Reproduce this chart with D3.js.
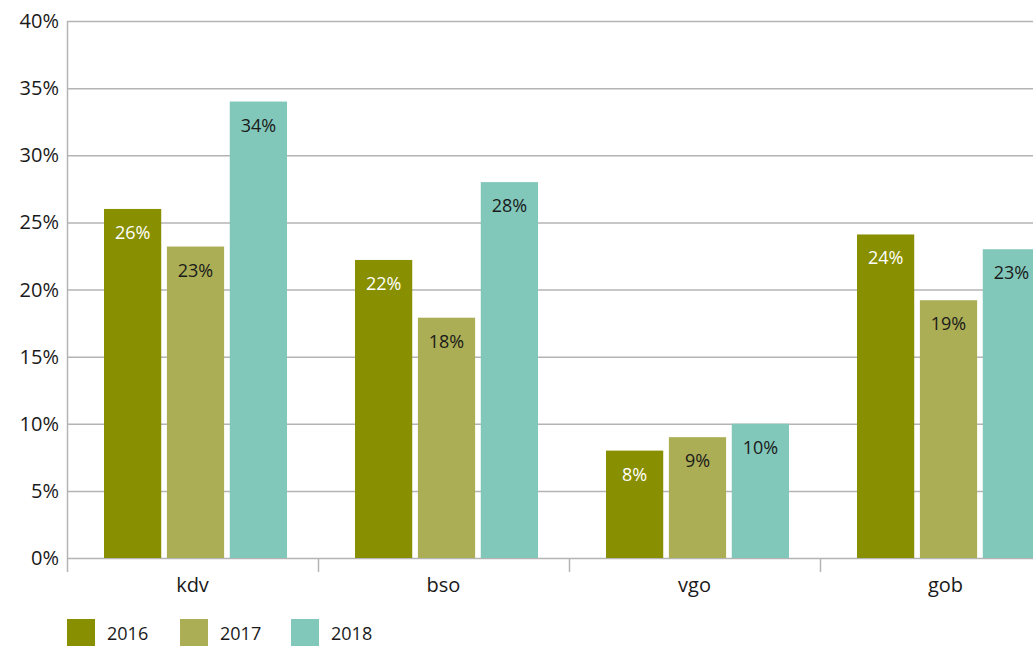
<!DOCTYPE html>
<html>
<head>
<meta charset="utf-8">
<script src="https://cdn.jsdelivr.net/npm/d3@7"></script>
<style>
  body { margin: 0; background: #fff; overflow: hidden; }
  svg { display: block; font-family: "Open Sans", "Noto Sans", sans-serif; }
</style>
</head>
<body>
<div id="chart"></div>
<script>
var categories = ['kdv', 'bso', 'vgo', 'gob'];
var years = ['2016', '2017', '2018'];
var values2016 = [26.0, 22.2, 8.0, 24.1];
var values2017 = [23.2, 17.9, 9.0, 19.2];
var values2018 = [34.0, 28.0, 10.0, 23.0];
var yTicks = [0, 5, 10, 15, 20, 25, 30, 35, 40];
var colors = ['#888f00', '#abae55', '#82c8ba'];
var labelColors = ['#ffffff', '#1a1a1a', '#1a1a1a'];

var series = [values2016, values2017, values2018];

function drawChart(){
  var W = 1033, H = 646;
  var left = 67, top = 21, bottom = 558;
  var bandW = 251;

  var svg = d3.select('#chart').append('svg')
    .attr('width', W).attr('height', H);

  var x = d3.scaleBand()
    .domain(categories)
    .range([left, left + bandW * categories.length])
    .paddingInner(0).paddingOuter(0);

  var xInner = d3.scaleBand()
    .domain(years)
    .range([37, 220])
    .paddingInner(0.09);

  var y = d3.scaleLinear().domain([0, 40]).range([bottom, top]);

  // gridlines
  svg.append('g').selectAll('line')
    .data(yTicks)
    .enter().append('line')
    .attr('x1', left).attr('x2', left + bandW * categories.length)
    .attr('y1', function(d){ return y(d) + 0.5; })
    .attr('y2', function(d){ return y(d) + 0.5; })
    .style('stroke', '#b4b4b4').style('stroke-width', 1.5);

  // y tick labels
  svg.append('g').selectAll('text')
    .data(yTicks)
    .enter().append('text')
    .attr('x', 59)
    .attr('y', function(d){ return y(d) + 7; })
    .text(function(d){ return d + '%'; })
    .style('text-anchor', 'end')
    .style('font-size', '20px')
    .style('fill', '#1a1a1a');

  // bars
  var groups = svg.append('g').selectAll('g')
    .data(categories)
    .enter().append('g')
    .attr('transform', function(d){ return 'translate(' + x(d) + ',0)'; });

  groups.selectAll('rect')
    .data(function(d, i){ return years.map(function(yr, j){ return { yr: yr, j: j, v: series[j][i] }; }); })
    .enter().append('rect')
    .attr('x', function(d){ return xInner(d.yr); })
    .attr('y', function(d){ return y(d.v); })
    .attr('width', xInner.bandwidth())
    .attr('height', function(d){ return y(0) - y(d.v); })
    .attr('fill', function(d){ return colors[d.j]; });

  groups.selectAll('text')
    .data(function(d, i){ return years.map(function(yr, j){ return { yr: yr, j: j, v: series[j][i] }; }); })
    .enter().append('text')
    .attr('x', function(d){ return xInner(d.yr) + xInner.bandwidth() / 2; })
    .attr('y', function(d){ return y(d.v) + 30; })
    .text(function(d){ return Math.round(d.v) + '%'; })
    .style('text-anchor', 'middle')
    .style('font-size', '18px')
    .style('fill', function(d){ return labelColors[d.j]; });

  // axes lines
  svg.append('line')
    .attr('x1', left + 0.5).attr('x2', left + 0.5)
    .attr('y1', top).attr('y2', bottom + 14)
    .style('stroke', '#b4b4b4').style('stroke-width', 1.5);

  var boundaries = categories.map(function(c){ return x(c) + bandW; });
  svg.append('g').selectAll('line')
    .data(boundaries)
    .enter().append('line')
    .attr('x1', function(d){ return d + 0.5; })
    .attr('x2', function(d){ return d + 0.5; })
    .attr('y1', bottom).attr('y2', bottom + 14)
    .style('stroke', '#b4b4b4').style('stroke-width', 1.5);

  // category labels
  svg.append('g').selectAll('text')
    .data(categories)
    .enter().append('text')
    .attr('x', function(d){ return x(d) + bandW / 2; })
    .attr('y', 592)
    .text(function(d){ return d; })
    .style('text-anchor', 'middle')
    .style('font-size', '20px')
    .style('fill', '#1a1a1a');

  // legend
  var legX = [67, 180, 291];
  var leg = svg.append('g').selectAll('g')
    .data(years)
    .enter().append('g')
    .attr('transform', function(d, i){ return 'translate(' + legX[i] + ',619)'; });
  leg.append('rect')
    .attr('width', 28).attr('height', 27)
    .attr('fill', function(d, i){ return colors[i]; });
  leg.append('text')
    .attr('x', 40).attr('y', 21)
    .text(function(d){ return d; })
    .style('font-size', '18px')
    .style('fill', '#1a1a1a');
}

drawChart();
</script>
</body>
</html>
